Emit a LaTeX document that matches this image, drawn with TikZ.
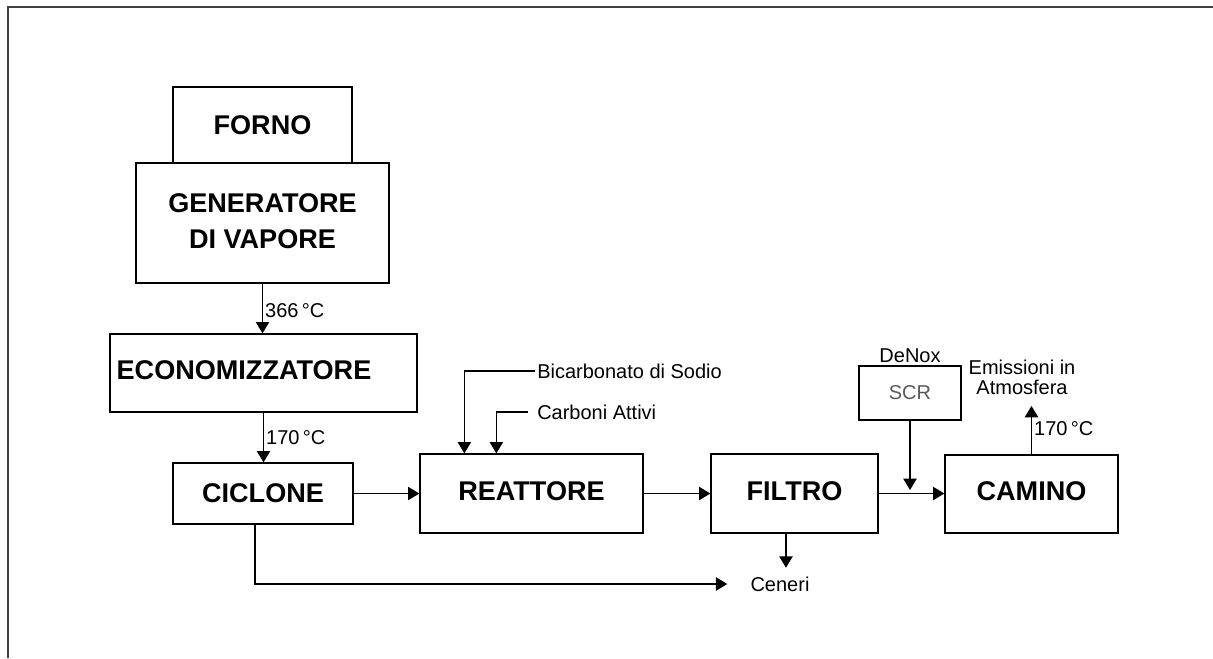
\documentclass[tikz,border=0pt]{standalone}
\usepackage{fontspec}
\setmainfont{Liberation Sans}
\usetikzlibrary{arrows.meta, positioning, calc}

\begin{document}
\begin{tikzpicture}[
  x=0.75pt, y=-0.75pt,
  block/.style={draw, line width=1pt, rectangle, minimum height=45.75pt,
                text centered, inner sep=2pt, font=\fontsize{20.3}{26.6}\selectfont\bfseries},
  unit/.style={block, minimum height=59.25pt, text depth=4pt},
  note/.style={font=\fontsize{15}{15}\selectfont, inner sep=1.5pt},
  arrow/.style={-{Triangle[length=8.5pt, width=10pt]}, line width=1pt},
]
\useasboundingbox (0,0) rectangle (1213,658);

%% Frame
\draw[line width=1.5pt, black!75] (8,658) -- (8,7) -- (1213,7);

%% Caldaia
\node[block, minimum width=134.25pt, minimum height=57pt] (forno) at (262.5,125) {FORNO};
\node[block, minimum width=189.75pt, minimum height=90pt, align=center, text depth=3pt] (generatore)
  at (262.5,223) {GENERATORE\\DI VAPORE};
\node[block, text width=220.25pt, minimum height=58.5pt, inner xsep=5pt, align=left,
      text depth=4pt] (econ)
  at (263.5,373) {ECONOMIZZATORE};

%% Trattamento fumi
\node[block, minimum width=135pt] (ciclone) at (263,493.5) {CICLONE};
\node[unit, minimum width=167.25pt] (reattore) at (531.5,493.5) {REATTORE};
\node[unit, minimum width=125.25pt] (filtro) at (794.5,493.5) {FILTRO};
\node[unit, minimum width=129.75pt, minimum height=58.5pt] (camino) at (1031.5,494) {CAMINO};
\node[block, minimum width=76.5pt, minimum height=40.5pt,
      font=\fontsize{15}{15}\selectfont, text=black!65] (scr) at (910,393) {SCR};

%% Labels
\node[note, above=0pt of scr] (denox) {DeNox};
\node[note, align=center] (emissioni) at (1022,377) {Emissioni in\\Atmosfera};
\node[note, anchor=west] (bicarbonato) at (535,371) {Bicarbonato di Sodio};
\node[note, anchor=west] (carboni) at (535,412) {Carboni Attivi};
\node[note] (ceneri) at (780,584) {Ceneri};

%% Main arrows
\draw[arrow] (generatore.south) -- (generatore.south |- econ.north)
  node[note, pos=0.55, right] {366\,°C};
\draw[arrow] (econ.south) -- (econ.south |- ciclone.north)
  node[note, midway, right] {170\,°C};
\draw[arrow] (ciclone) -- (reattore);
\draw[arrow] (reattore) -- (filtro);
\draw[arrow] (filtro.east) -- (filtro.east -| camino.west);
\draw[arrow, shorten >=3pt] (scr) -- (scr |- camino.west);
\draw[arrow, shorten >=7pt] (camino.north) -- (camino.north |- emissioni.south)
  node[note, pos=0.45, right] {170\,°C};

%% Reagents
\draw[arrow] (bicarbonato.west) -| ([xshift=33.75pt]reattore.north west);
\draw[arrow, shorten <=5pt] (carboni.west) -| ([xshift=57.75pt]reattore.north west);

%% Ceneri
\draw[arrow, shorten >=15.75pt] ([xshift=-6pt]ciclone.south) |- (ceneri.west);
\draw[arrow, shorten >=5pt] ([xshift=-6.4pt]filtro.south)
  -- ([xshift=-6.4pt]filtro.south |- ceneri.north);

\end{tikzpicture}
\end{document}
